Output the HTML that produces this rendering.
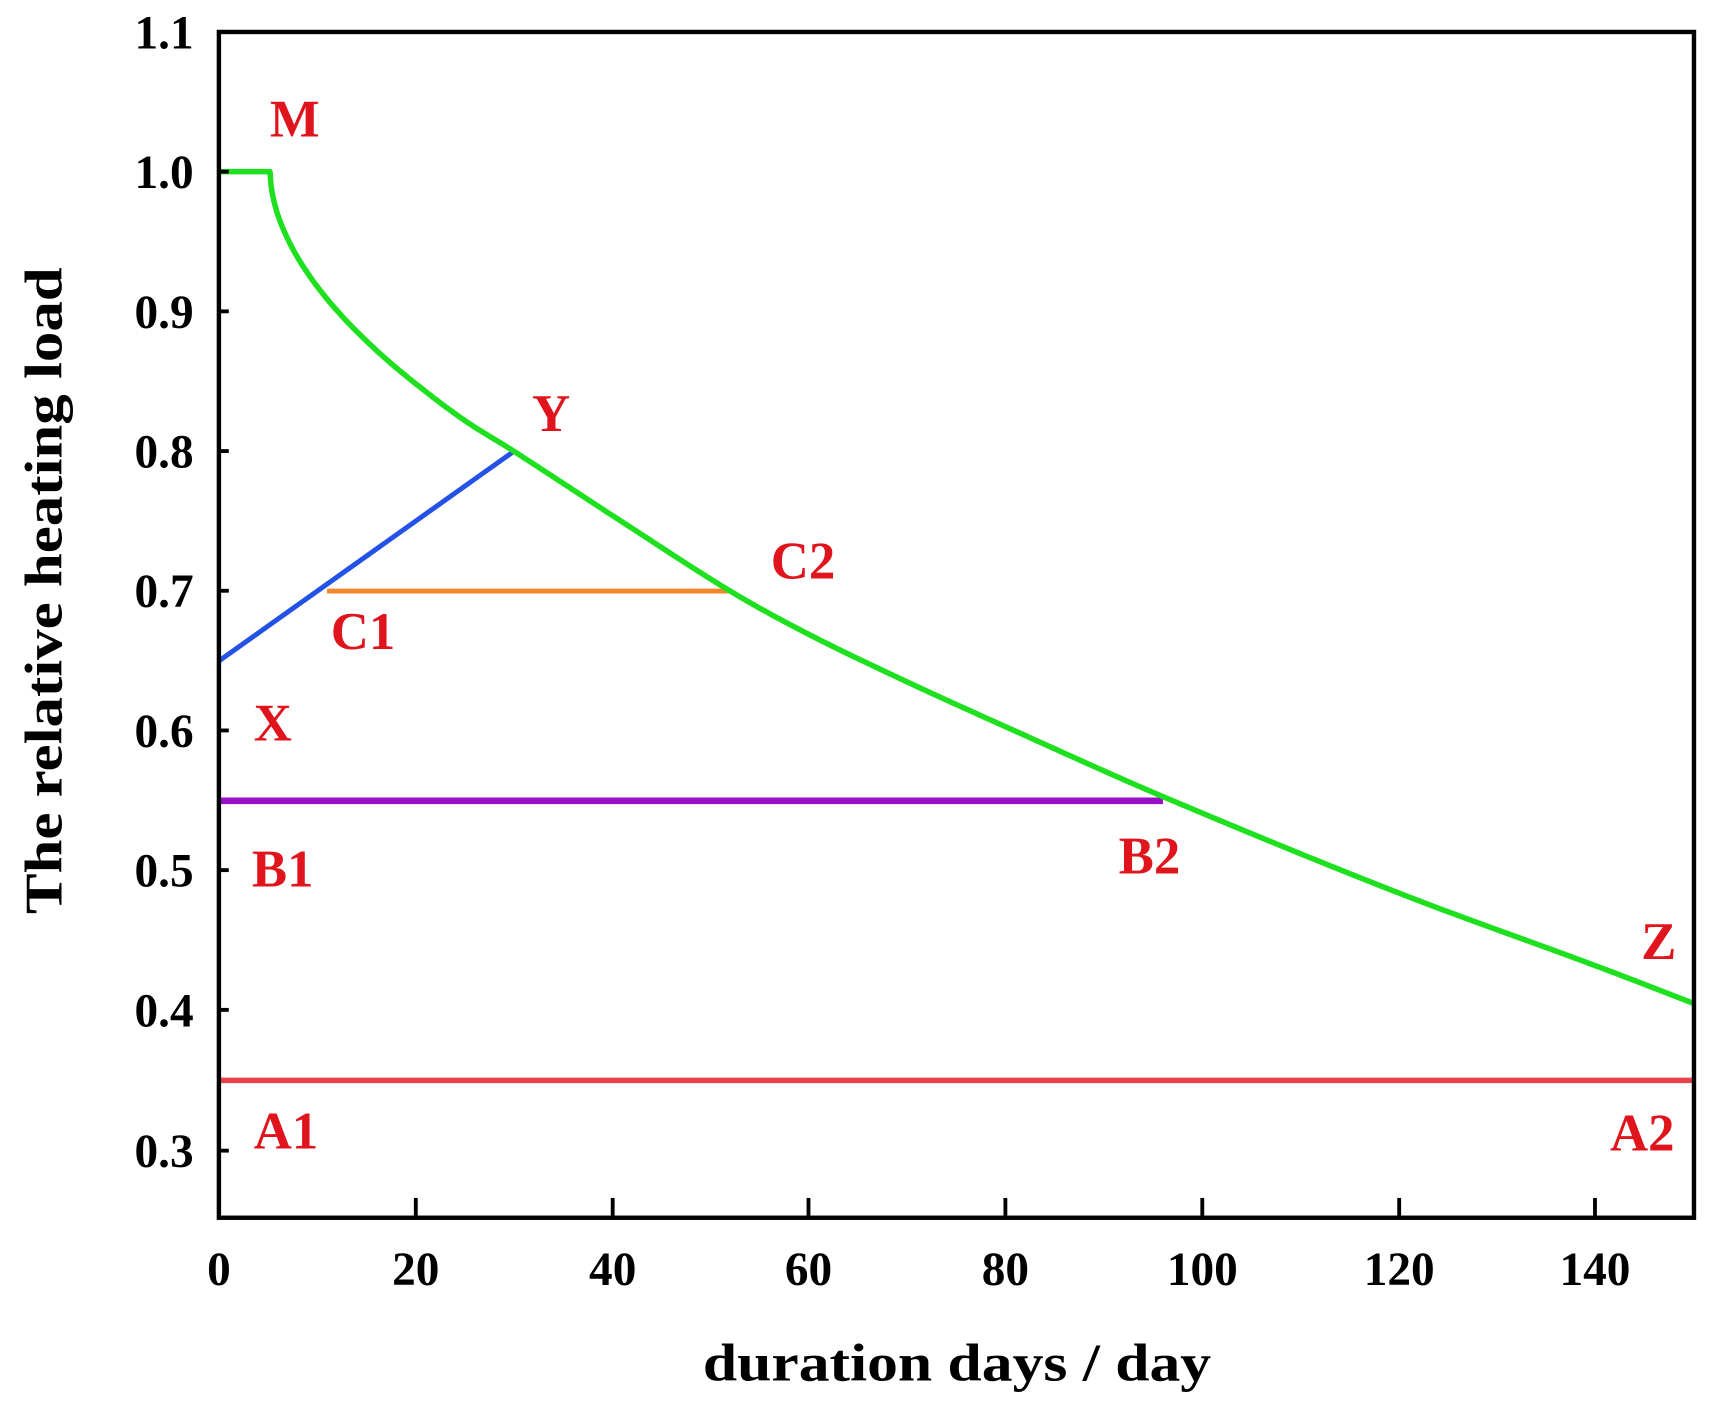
<!DOCTYPE html>
<html><head><meta charset="utf-8"><style>
html,body{margin:0;padding:0;background:#fff;}
svg{display:block;}
text{font-family:"Liberation Serif",serif;font-weight:bold;}
</style></head><body>
<svg id="s" width="1725" height="1407" viewBox="0 1 1568.2 1279" xmlns="http://www.w3.org/2000/svg">
<rect x="0" y="0" width="1570" height="1290" fill="#fff"/>
<g id="data"></g>
<rect x="199" y="30" width="1341" height="1078" fill="none" stroke="#000" stroke-width="4"/>
<g stroke="#000" stroke-width="3.5">
<line x1="199" y1="157" x2="208" y2="157"/><line x1="199" y1="284" x2="208" y2="284"/>
<line x1="199" y1="411" x2="208" y2="411"/><line x1="199" y1="538" x2="208" y2="538"/>
<line x1="199" y1="665" x2="208" y2="665"/><line x1="199" y1="792" x2="208" y2="792"/>
<line x1="199" y1="919" x2="208" y2="919"/><line x1="199" y1="1047" x2="208" y2="1047"/>
<line x1="378" y1="1108" x2="378" y2="1090"/><line x1="557" y1="1108" x2="557" y2="1090"/>
<line x1="735" y1="1108" x2="735" y2="1090"/><line x1="914" y1="1108" x2="914" y2="1090"/>
<line x1="1093" y1="1108" x2="1093" y2="1090"/><line x1="1272" y1="1108" x2="1272" y2="1090"/>
<line x1="1450" y1="1108" x2="1450" y2="1090"/>
</g>
<g font-size="43" text-anchor="end" fill="#000">
<text x="176" y="45">1.1</text><text x="176" y="172">1.0</text><text x="176" y="299">0.9</text>
<text x="176" y="426">0.8</text><text x="176" y="553">0.7</text><text x="176" y="680">0.6</text>
<text x="176" y="807">0.5</text><text x="176" y="934">0.4</text><text x="176" y="1062">0.3</text>
</g>
<g font-size="43" text-anchor="middle" fill="#000">
<text x="199" y="1169">0</text><text x="378" y="1169">20</text><text x="557" y="1169">40</text>
<text x="735" y="1169">60</text><text x="914" y="1169">80</text><text x="1093" y="1169">100</text>
<text x="1272" y="1169">120</text><text x="1450" y="1169">140</text>
</g>
<text x="870" y="1256" font-size="48" text-anchor="middle" textLength="462" lengthAdjust="spacingAndGlyphs">duration days / day</text>
<text transform="translate(56,538) rotate(-90)" font-size="48" text-anchor="middle" textLength="588" lengthAdjust="spacingAndGlyphs">The relative heating load</text>
<g font-size="48" fill="#e0141c" text-anchor="middle">
<text x="268" y="125">M</text><text x="501" y="393">Y</text><text x="730" y="527">C2</text>
<text x="330" y="591">C1</text><text x="248" y="674">X</text><text x="257" y="807">B1</text>
<text x="1045" y="795">B2</text><text x="1508" y="873">Z</text><text x="260" y="1045">A1</text>
<text x="1493" y="1047">A2</text>
</g>
</svg>
<script>
(function(){
function X(d){return 199+d*8.94;}
function Y(v){return 157+(1-v)*1271;}
var g=document.getElementById('data');var ns='http://www.w3.org/2000/svg';
function line(a,b,c,d,col,w){var l=document.createElementNS(ns,'line');l.setAttribute('x1',X(a));l.setAttribute('y1',Y(b));l.setAttribute('x2',X(c));l.setAttribute('y2',Y(d));l.setAttribute('stroke',col);l.setAttribute('stroke-width',w);g.appendChild(l);}
line(0,0.35,150,0.35,'#e8414a',5);
line(0,0.55,96,0.55,'#9b0fc9',6);
line(0,0.65,30,0.8,'#2452e6',4.5);
line(11,0.7,52,0.7,'#f2862a',4.5);
function f(d){return 1-0.035*Math.pow(Math.max(d-5.2,0),0.544);}
var pts=[[12,f(12)],[16,f(16)],[20,f(20)],[25,0.822],[30,0.80],[40.9,0.750],[52,0.70],[60,0.669],[70,0.635],[80,0.603],[96,0.553],[120,0.484],[140,0.432],[150,0.405]];
var xs=pts.map(p=>p[0]),ys=pts.map(p=>p[1]);
function interp(d){if(d<=12)return f(d);
for(var i=0;i<xs.length-1;i++){if(d<=xs[i+1]){var t=(d-xs[i])/(xs[i+1]-xs[i]);
var m0=i>0?(ys[i+1]-ys[i-1])/(xs[i+1]-xs[i-1]):-0.035*0.544*Math.pow(12-5.2,-0.456);
var m1=i+2<xs.length?(ys[i+2]-ys[i])/(xs[i+2]-xs[i]):(ys[i+1]-ys[i])/(xs[i+1]-xs[i]);
var h=xs[i+1]-xs[i],t2=t*t,t3=t2*t;
return (2*t3-3*t2+1)*ys[i]+(t3-2*t2+t)*h*m0+(-2*t3+3*t2)*ys[i+1]+(t3-t2)*h*m1;}}return ys[ys.length-1];}
var d='M'+X(0)+' '+Y(1)+' L'+X(5.2)+' '+Y(1);
for(var k=5.3;k<=150.001;k+=0.1){d+=' L'+X(k).toFixed(1)+' '+Y(interp(k)).toFixed(1);}
var p=document.createElementNS(ns,'path');p.setAttribute('d',d);p.setAttribute('fill','none');p.setAttribute('stroke','#1fe01f');p.setAttribute('stroke-width',5);p.setAttribute('stroke-linejoin','round');g.appendChild(p);
})();
</script>
</body></html>
